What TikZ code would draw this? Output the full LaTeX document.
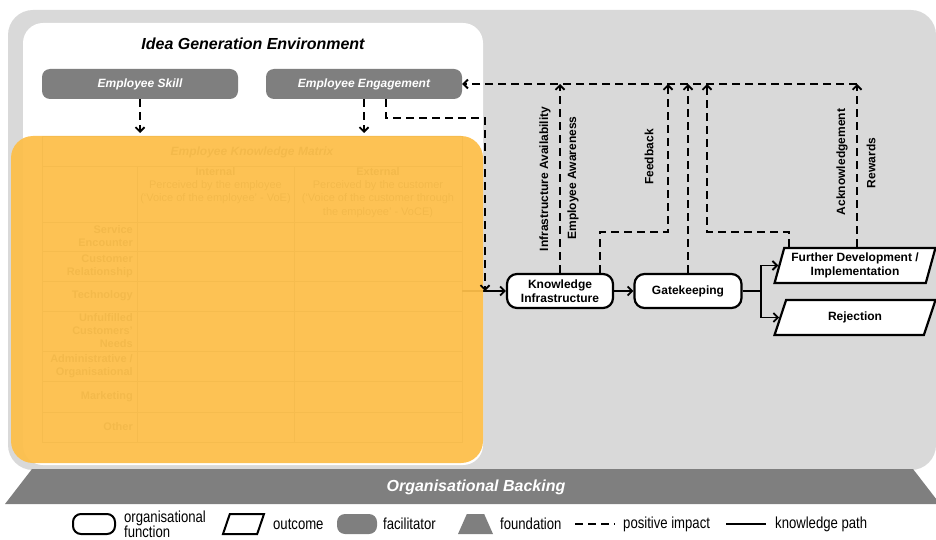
\documentclass[tikz,border=0pt]{standalone}
\usepackage{fontspec}
\setmainfont{Liberation Sans}
\newfontfamily\narrowfont[FakeStretch=0.82]{Liberation Sans}
\usetikzlibrary{arrows.meta,shapes.geometric}
\definecolor{bggray}{RGB}{217,217,217}
\definecolor{facgray}{RGB}{127,127,127}
\definecolor{mtxorange}{RGB}{253,191,74}
\definecolor{mtxtext}{RGB}{90,90,90}
\definecolor{mtxrule}{RGB}{150,150,150}
\begin{document}
\begin{tikzpicture}[x=1pt,y=-1pt,
  orgfunc/.style={draw, line width=2.2pt, fill=white, rounded corners=10pt, align=center, minimum height=34pt, font=\bfseries\fontsize{12}{14}\selectfont},
  outbox/.style={trapezium, trapezium left angle=74, trapezium right angle=106, trapezium stretches=true, draw, line width=2.2pt, fill=white, align=center, minimum width=161pt, minimum height=35pt, font=\bfseries\fontsize{12}{14}\selectfont},
  facil/.style={fill=facgray, rounded corners=8pt, text=white, minimum width=196pt, minimum height=30pt, font=\bfseries\itshape\fontsize{12}{14}\selectfont},
  mtxlabel/.style={text=mtxtext, align=right, anchor=east, inner sep=1pt, font=\bfseries\fontsize{11}{13}\selectfont},
  mtxhead/.style={text=mtxtext, align=center, anchor=north, inner sep=1pt, font=\fontsize{11}{13.3}\selectfont},
  mtxline/.style={mtxrule, line width=0.6pt},
  sidelabel/.style={rotate=90, font=\bfseries\fontsize{12}{14}\selectfont},
  legtext/.style={anchor=west, inner sep=0pt, align=left, font=\narrowfont\fontsize{16}{15}\selectfont},
  pimpact/.style={line width=1.8pt, dash pattern=on 8pt off 5pt},
  kpath/.style={line width=1.8pt},
  arr/.style={-{Straight Barb[length=4.5pt,width=9pt]}}]
\useasboundingbox (0,0) rectangle (936,540);
\fill[bggray, rounded corners=25pt] (8,10) rectangle (936,470);
\fill[facgray] (5,504) -- (32,469) -- (913,469) -- (940,504) -- cycle;
\node[text=white, font=\bfseries\itshape\fontsize{16}{18}\selectfont] (backing) at (476,487) {Organisational Backing};
\fill[white, rounded corners=20pt] (23,23) rectangle (483,465);
\node[font=\bfseries\itshape\fontsize{16}{18}\selectfont] (idea) at (253,44) {Idea Generation Environment};
\node[facil] (skill) at (140,84) {Employee Skill};
\node[facil] (eng) at (364,84) {Employee Engagement};

\draw[mtxline] (42,136) rectangle (462,442);
\draw[mtxline] (42,166) -- (462,166);
\draw[mtxline] (42,222) -- (462,222);
\draw[mtxline] (42,251) -- (462,251);
\draw[mtxline] (42,281) -- (462,281);
\draw[mtxline] (42,311) -- (462,311);
\draw[mtxline] (42,351) -- (462,351);
\draw[mtxline] (42,381) -- (462,381);
\draw[mtxline] (42,412) -- (462,412);
\draw[mtxline] (137,166) -- (137,442);
\draw[mtxline] (294,166) -- (294,442);
\node[text=mtxtext, font=\bfseries\itshape\fontsize{12}{14}\selectfont] (mtxtitle) at (252,152) {Employee Knowledge Matrix};
\node[mtxhead] (hdint) at (215.5,166) {\textbf{Internal}\\Perceived by the employee\\(`Voice of the employee' - VoE)};
\node[mtxhead] (hdext) at (378,166) {\textbf{External}\\Perceived by the customer\\(`Voice of the customer through\\the employee' - VoCE)};
\node[mtxlabel] (rowse) at (134,236.5) {Service\\Encounter};
\node[mtxlabel] (rowcr) at (134,266) {Customer\\Relationship};
\node[mtxlabel] (rowtech) at (134,296) {Technology};
\node[mtxlabel] (rowucn) at (134,331) {Unfulfilled\\Customers'\\Needs};
\node[mtxlabel] (rowadm) at (134,366) {Administrative /\\Organisational};
\node[mtxlabel] (rowmkt) at (134,396.5) {Marketing};
\node[mtxlabel] (rowoth) at (134,427) {Other};

\node[orgfunc, minimum width=106pt] (ki) at (560,291) {Knowledge\\Infrastructure};
\node[orgfunc, minimum width=107pt] (gate) at (688,291) {Gatekeeping};
\node[outbox] (further) at (855,265.5) {Further Development /\\Implementation};
\node[outbox] (reject) at (855,317.5) {Rejection};
\coordinate (mtxout) at (462,291);
\draw[kpath,arr] (mtxout) -- (ki);

\fill[mtxorange, opacity=.94, rounded corners=22pt] (11,136) rectangle (483,463);

\coordinate (mtxtop) at (0,133);
\coordinate (topy) at (0,84);
\coordinate (engturn) at (485,118);
\coordinate (fbturn) at (668,232);
\coordinate (acturn) at (707,232);
\draw[pimpact,arr] (skill.south) -- (skill.south |- mtxtop);
\draw[pimpact,arr] (eng.south) -- (eng.south |- mtxtop);
\draw[pimpact,arr] ([xshift=22pt]eng.south) |- (engturn) -- (engturn |- ki.west);
\draw[kpath,arr] (ki) -- (gate);
\draw[kpath,arr] (gate.east) -- ++(18,0) |- (further.west);
\draw[kpath,arr] (gate.east) -- ++(18,0) |- (reject.west);
\draw[pimpact,arr] (ki.north) -- (ki.north |- topy);
\draw[pimpact,arr] ([xshift=40pt]ki.north) |- (fbturn) -- (fbturn |- topy);
\draw[pimpact,arr] (gate.north) -- (gate.north |- topy);
\draw[pimpact,arr] ([xshift=-66pt]further.north) |- (acturn) -- (acturn |- topy);
\draw[pimpact,arr] ([xshift=2pt]further.north) -- ([xshift=2pt]further.north |- topy);
\draw[pimpact,arr] ([xshift=2pt]further.north |- topy) -- (eng.east);
\node[sidelabel] (infra) at (545,179) {Infrastructure Availability};
\node[sidelabel] (aware) at (573,178) {Employee Awareness};
\node[sidelabel] (feedb) at (649,157) {Feedback};
\node[sidelabel] (ackn) at (842,162) {Acknowledgement};
\node[sidelabel] (rewd) at (871,163) {Rewards};

\node[draw, line width=2pt, rounded corners=8pt, minimum width=42pt, minimum height=20pt] (legorg) at (94,524) {};
\node[legtext] (legorgtxt) at (124,524) {organisational\\function};
\node[trapezium, trapezium left angle=76, trapezium right angle=104, trapezium stretches=true, draw, line width=2pt, minimum width=41pt, minimum height=20pt] (legout) at (243.5,524) {};
\node[legtext] (legouttxt) at (273,524) {outcome};
\node[fill=facgray, rounded corners=8pt, minimum width=40pt, minimum height=20pt] (legfac) at (357,524) {};
\node[legtext] (legfactxt) at (383,524) {facilitator};
\node[trapezium, trapezium left angle=63, trapezium right angle=63, trapezium stretches=true, fill=facgray, minimum width=35pt, minimum height=20pt] (legfound) at (475.5,524) {};
\node[legtext] (legfoundtxt) at (500,524) {foundation};
\coordinate (legdasha) at (575,524);
\coordinate (legdashb) at (615,524);
\draw[pimpact] (legdasha) -- (legdashb);
\node[legtext] (legpostxt) at (623,524) {positive impact};
\coordinate (legsolida) at (726,524);
\coordinate (legsolidb) at (766,524);
\draw[kpath] (legsolida) -- (legsolidb);
\node[legtext] (legkptxt) at (775,524) {knowledge path};
\end{tikzpicture}
\end{document}
